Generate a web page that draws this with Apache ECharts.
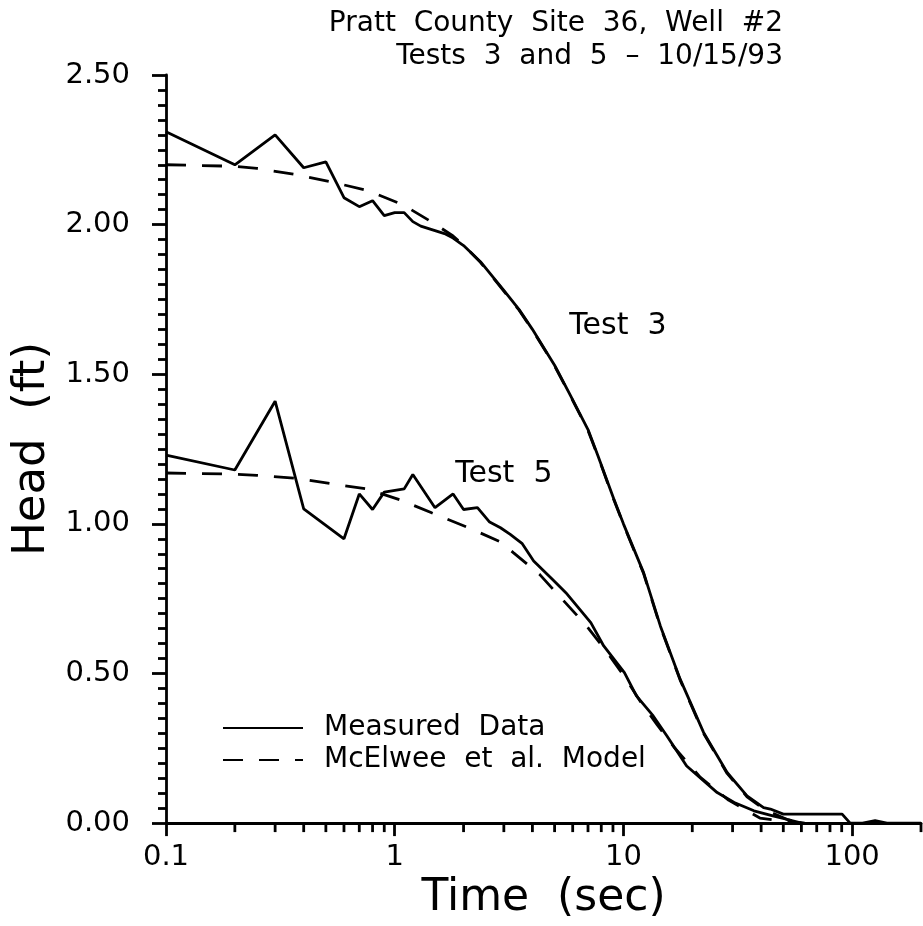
<!DOCTYPE html>
<html>
<head>
<meta charset="utf-8">
<script src="https://cdn.jsdelivr.net/npm/echarts@6/dist/echarts.min.js"></script>
<style>
  html, body { margin: 0; padding: 0; background: #fff; }
  #chart { width: 923px; height: 926px; }
</style>
</head>
<body>
<div id="chart"></div>
<script>
// Slug-test recovery, Pratt County Site 36, Well #2
const test3Time = [0.1, 0.2, 0.3, 0.4, 0.5, 0.6, 0.7, 0.8, 0.9, 1.0, 1.1, 1.2, 1.3, 1.5, 1.65, 1.8, 2.0, 2.37, 3.0, 3.5, 4.0, 4.54, 5.0, 5.84, 7.0, 7.7, 9.06, 10.0, 12.25, 14.5, 17.7, 22.4, 28.4, 34.7, 41, 43.9, 50, 90.4, 98, 111, 126, 142, 200];
const test3Head = [2.31, 2.20, 2.30, 2.19, 2.21, 2.09, 2.06, 2.08, 2.03, 2.04, 2.04, 2.01, 1.995, 1.98, 1.97, 1.955, 1.93, 1.876, 1.78, 1.716, 1.65, 1.582, 1.53, 1.432, 1.315, 1.232, 1.085, 1.0, 0.837, 0.659, 0.481, 0.303, 0.169, 0.091, 0.052, 0.047, 0.030, 0.030, 0, 0, 0.008, 0, 0];

const test3ModelTime = [0.1, 0.2, 0.25, 0.37, 0.52, 0.76, 1.09, 1.47, 1.8, 2.0, 2.37, 3.0, 3.5, 4.0, 4.54, 5.0, 5.84, 7.0, 7.7, 9.06, 10.0, 12.25, 14.5, 17.7, 22.4, 28.4, 34.7, 41, 45, 52, 60];
const test3ModelHead = [2.20, 2.195, 2.188, 2.167, 2.144, 2.114, 2.066, 2.006, 1.962, 1.932, 1.874, 1.778, 1.714, 1.648, 1.58, 1.528, 1.43, 1.312, 1.23, 1.082, 0.998, 0.834, 0.656, 0.478, 0.30, 0.166, 0.088, 0.048, 0.033, 0.012, 0];

const test5Time = [0.1, 0.2, 0.3, 0.4, 0.6, 0.7, 0.8, 0.9, 1.1, 1.2, 1.5, 1.8, 2.0, 2.3, 2.6, 2.9, 3.2, 3.6, 4.05, 4.9, 5.6, 7.2, 8.2, 10.1, 11.4, 13.5, 15.5, 18.9, 25.7, 30.5, 37.2, 45, 59, 62];
const test5Head = [1.23, 1.18, 1.41, 1.05, 0.95, 1.10, 1.048, 1.106, 1.117, 1.165, 1.054, 1.10, 1.048, 1.054, 1.006, 0.987, 0.965, 0.935, 0.876, 0.814, 0.77, 0.67, 0.592, 0.503, 0.425, 0.358, 0.291, 0.191, 0.102, 0.069, 0.041, 0.024, 0.002, 0];

const test5ModelTime = [0.1, 0.2, 0.25, 0.37, 0.53, 0.75, 1.05, 1.45, 2.1, 2.9, 3.3, 4.3, 5.4, 6.9, 8.5, 10.1, 12, 14, 16.8, 21.7, 28.8, 39.5, 54, 60];
const test5ModelHead = [1.17, 1.166, 1.162, 1.152, 1.134, 1.117, 1.081, 1.037, 0.987, 0.94, 0.904, 0.831, 0.748, 0.659, 0.57, 0.49, 0.40, 0.33, 0.25, 0.153, 0.077, 0.017, 0.003, 0];

// axis ticks
const xMajorTicks = [0.1, 1, 10, 100];
const xTickLabels = ['0.1', '1', '10', '100'];
const xMinorTicks = [0.2, 0.3, 0.4, 0.5, 0.6, 0.7, 0.8, 0.9, 2, 3, 4, 5, 6, 7, 8, 9, 20, 30, 40, 50, 60, 70, 80, 90, 200];

// curve annotations [text, time, head]
const curveLabels = [['Test  3', 5.8, 1.662], ['Test  5', 1.84, 1.165]];

const titleLines = ['Pratt  County  Site  36,  Well  #2', 'Tests  3  and  5  –  10/15/93'];

const legendText = { 'Measured Data': 'Measured  Data', 'McElwee et al. Model': 'McElwee  et  al.  Model' };

const FONT = 'DejaVu Sans';
const INK = '#000';
const DASH = [20, 16];
const LINE_W = 2.8;

const zip = (xs, ys) => xs.map((x, i) => [x, ys[i]]);

const chart = echarts.init(document.getElementById('chart'), null, { renderer: 'canvas' });

const lineSeries = (name, data, dashed) => ({
  type: 'line',
  name: name,
  data: data,
  symbol: 'none',
  smooth: false,
  lineStyle: { color: INK, width: LINE_W, type: dashed ? DASH : 'solid' },
  itemStyle: { color: INK },
  z: 3
});

chart.setOption({
  animation: false,
  backgroundColor: '#fff',
  title: titleLines.map((t, i) => ({
    text: t,
    right: 140,
    top: 10 + i * 33,
    padding: 0,
    textStyle: { fontFamily: FONT, fontSize: 28, fontWeight: 'normal', color: INK }
  })),
  legend: {
    data: ['Measured Data', 'McElwee et al. Model'],
    orient: 'vertical',
    left: 217,
    top: 709,
    itemWidth: 80,
    itemHeight: 14,
    itemGap: 4,
    itemStyle: { opacity: 0 },
    formatter: name => legendText[name],
    textStyle: { fontFamily: FONT, fontSize: 28, color: INK, padding: [0, 0, 0, 16], lineHeight: 28 },
    selectedMode: false
  },
  grid: { left: 166, right: 2, top: 75, bottom: 102, containLabel: false },
  xAxis: {
    type: 'log',
    logBase: 10,
    min: 0.1,
    max: 200,
    name: 'Time  (sec)',
    nameLocation: 'middle',
    nameGap: 45,
    nameTextStyle: { fontFamily: FONT, fontSize: 44, color: INK },
    axisLine: { show: true, lineStyle: { color: INK, width: LINE_W } },
    axisTick: { show: true, length: 13, lineStyle: { color: INK, width: LINE_W }, customValues: xMajorTicks },
    axisLabel: {
      show: true, margin: 20, fontFamily: FONT, fontSize: 29, color: INK,
      customValues: xMajorTicks,
      formatter: v => { const i = xMajorTicks.findIndex(t => Math.abs(t - v) / t < 1e-6); return i >= 0 ? xTickLabels[i] : ''; }
    },
    splitLine: { show: false },
    minorTick: { show: false }
  },
  yAxis: {
    type: 'value',
    min: 0,
    max: 2.5,
    interval: 0.5,
    name: 'Head  (ft)',
    nameLocation: 'middle',
    nameGap: 106,
    nameTextStyle: { fontFamily: FONT, fontSize: 45, color: INK },
    axisLine: { show: true, lineStyle: { color: INK, width: LINE_W } },
    axisTick: { show: true, length: 14, lineStyle: { color: INK, width: LINE_W } },
    minorTick: { show: true, splitNumber: 10, length: 8, lineStyle: { color: INK, width: LINE_W } },
    axisLabel: { margin: 36, fontFamily: FONT, fontSize: 29, color: INK, formatter: v => v.toFixed(2) },
    splitLine: { show: false },
    minorSplitLine: { show: false }
  },
  series: [
    lineSeries('Measured Data', zip(test3Time, test3Head), false),
    lineSeries('McElwee et al. Model', zip(test3ModelTime, test3ModelHead), true),
    lineSeries('Measured Data', zip(test5Time, test5Head), false),
    lineSeries('McElwee et al. Model', zip(test5ModelTime, test5ModelHead), true),
    {
      // minor ticks of the logarithmic time axis (2..9 in each decade)
      type: 'custom',
      name: 'xMinor',
      silent: true,
      clip: false,
      z: 5,
      data: xMinorTicks.map(v => [v, 0]),
      renderItem: (params, api) => {
        const p = api.coord([api.value(0), 0]);
        return {
          type: 'line',
          shape: { x1: p[0], y1: p[1], x2: p[0], y2: p[1] + 9 },
          style: { stroke: INK, lineWidth: LINE_W }
        };
      }
    }
  ]
});

// curve annotations placed through the chart's coordinate system
chart.setOption({
  graphic: curveLabels.map(([text, t, h]) => {
    const p = chart.convertToPixel({ gridIndex: 0 }, [t, h]);
    return {
      type: 'text',
      x: p[0],
      y: p[1],
      style: { text: text, fontFamily: FONT, fontSize: 30, fill: INK, textAlign: 'left', textVerticalAlign: 'middle' },
      z: 10
    };
  })
});
</script>
</body>
</html>
